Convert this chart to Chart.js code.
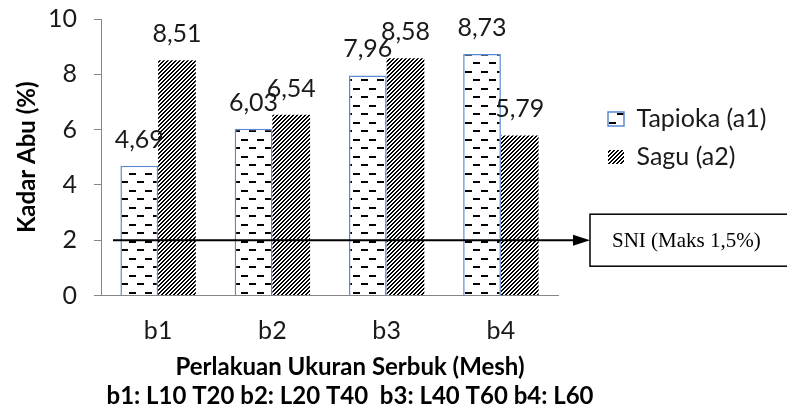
<!DOCTYPE html>
<html><head><meta charset="utf-8">
<script src="https://cdn.jsdelivr.net/npm/chart.js@4.4.1/dist/chart.umd.min.js"></script>
<style>html,body{margin:0;padding:0;background:#fff;}canvas{display:block;}</style>
</head><body>
<canvas id="c" width="787" height="416"></canvas>
<script>
const categories = ['b1', 'b2', 'b3', 'b4'];
const tapioka = [4.69, 6.03, 7.96, 8.73];
const sagu = [8.51, 6.54, 8.58, 5.79];
const seriesNames = ['Tapioka (a1)', 'Sagu (a2)'];
const yTicks = [0, 2, 4, 6, 8, 10];
const sniLevel = 2;
const sniText = 'SNI (Maks 1,5%)';
const yTitle = 'Kadar Abu (%)';
const xTitleLines = ['Perlakuan Ukuran Serbuk (Mesh)', 'b1: L10 T20 b2: L20 T40  b3: L40 T60 b4: L60'];

const canvas = document.getElementById('c');
const mainCtx = canvas.getContext('2d');

function dashPattern() {
  const c = document.createElement('canvas'); c.width = 16; c.height = 17;
  const g = c.getContext('2d');
  g.fillStyle = '#fff'; g.fillRect(0, 0, 16, 17);
  g.fillStyle = '#000';
  g.fillRect(1, 3, 7, 2);
  g.fillRect(9, 11, 7, 2);
  return mainCtx.createPattern(c, 'repeat');
}
function diagPattern() {
  const s = 4;
  const c = document.createElement('canvas'); c.width = s; c.height = s;
  const g = c.getContext('2d');
  g.fillStyle = '#fff'; g.fillRect(0, 0, s, s);
  g.fillStyle = '#000';
  for (let y = 0; y < s; y++) {
    g.fillRect((s - 1 - y) % s, y, 1, 1);
    g.fillRect((s - y) % s, y, 1, 1);
  }
  return mainCtx.createPattern(c, 'repeat');
}
const fmt = v => v.toFixed(2).replace('.', ',');

const annot = {
  id: 'annot',
  afterLayout(chart) {
    const L = chart.legend; if (!L) return;
    const ca = chart.chartArea;
    const w = L.width, h = L.height;
    L.left = ca.right + 37; L.right = L.left + w;
    L.top = ca.top + 74.5; L.bottom = L.top + h;
  },
  afterDatasetsDraw(chart) {
    const ctx = chart.ctx, ca = chart.chartArea;
    ctx.save();
    ctx.font = '25px Lato'; ctx.fillStyle = '#1a1a1a'; ctx.textAlign = 'center'; ctx.textBaseline = 'alphabetic';
    chart.data.datasets.forEach((ds, i) => {
      chart.getDatasetMeta(i).data.forEach((el, j) => {
        ctx.fillText(fmt(ds.data[j]), el.x, el.y - 18);
      });
    });
    const y = chart.scales.y.getPixelForValue(sniLevel);
    const x0 = ca.left + 12, boxL = ca.right + 32;
    ctx.strokeStyle = '#000'; ctx.fillStyle = '#000'; ctx.lineWidth = 2;
    ctx.beginPath(); ctx.moveTo(x0, y); ctx.lineTo(boxL - 14, y); ctx.stroke();
    ctx.beginPath(); ctx.moveTo(boxL - 17, y - 5.5); ctx.lineTo(boxL, y); ctx.lineTo(boxL - 17, y + 5.5); ctx.closePath(); ctx.fill();
    ctx.lineWidth = 1.5;
    ctx.strokeRect(boxL, y - 26, 300, 52);
    ctx.font = '21px "Liberation Serif"'; ctx.textAlign = 'left'; ctx.textBaseline = 'middle';
    ctx.fillText(sniText, boxL + 22, y + 1);
    ctx.restore();
  },
  afterDraw(chart) {
    const ctx = chart.ctx, ca = chart.chartArea;
    ctx.save();
    ctx.font = 'bold 24px Lato'; ctx.fillStyle = '#000'; ctx.textAlign = 'center'; ctx.textBaseline = 'alphabetic';
    const cx = ca.left + 249;
    ctx.fillText(xTitleLines[0], cx, ca.bottom + 79.5);
    ctx.fillText(xTitleLines[1], cx, ca.bottom + 108.5);
    ctx.restore();
  }
};

new Chart(canvas, {
  type: 'bar',
  data: {
    labels: categories,
    datasets: [
      { label: seriesNames[0], data: tapioka, backgroundColor: dashPattern(), borderColor: '#5A8AD2', borderWidth: 1.5, borderSkipped: 'bottom' },
      { label: seriesNames[1], data: sagu, backgroundColor: diagPattern(), borderWidth: 0 }
    ]
  },
  options: {
    responsive: false,
    animation: false,
    devicePixelRatio: 1,
    layout: { padding: { top: 19, right: 229, left: 0, bottom: 0 } },
    datasets: { bar: { categoryPercentage: 0.66, barPercentage: 1.0 } },
    plugins: {
      legend: {
        position: 'chartArea', align: 'start',
        labels: { boxWidth: 16, boxHeight: 14, padding: 13, color: '#1a1a1a', font: { family: 'Lato', size: 25 } }
      },
      tooltip: { enabled: false }
    },
    scales: {
      x: {
        grid: { display: false, drawTicks: false },
        border: { display: true, color: '#868686', width: 1 },
        ticks: { padding: 20, color: '#1a1a1a', font: { family: 'Lato', size: 25 } },
        afterFit(s) { s.height = 120.5; s.paddingLeft = 0; s.paddingRight = 0; }
      },
      y: {
        min: 0, max: 10,
        afterBuildTicks(s) { s.ticks = yTicks.map(v => ({ value: v })); },
        grid: { display: true, drawOnChartArea: false, drawTicks: true, tickLength: 7, color: '#868686' },
        border: { display: true, color: '#868686', width: 1 },
        ticks: { padding: 17, color: '#1a1a1a', font: { family: 'Lato', size: 25 } },
        title: { display: true, text: yTitle, color: '#000', font: { family: 'Lato', size: 24, weight: 'bold' }, padding: { top: 13, bottom: 0 } },
        afterFit(s) { s.width = 101; s.paddingTop = 0; s.paddingBottom = 0; }
      }
    }
  },
  plugins: [annot]
});
</script>
</body></html>
